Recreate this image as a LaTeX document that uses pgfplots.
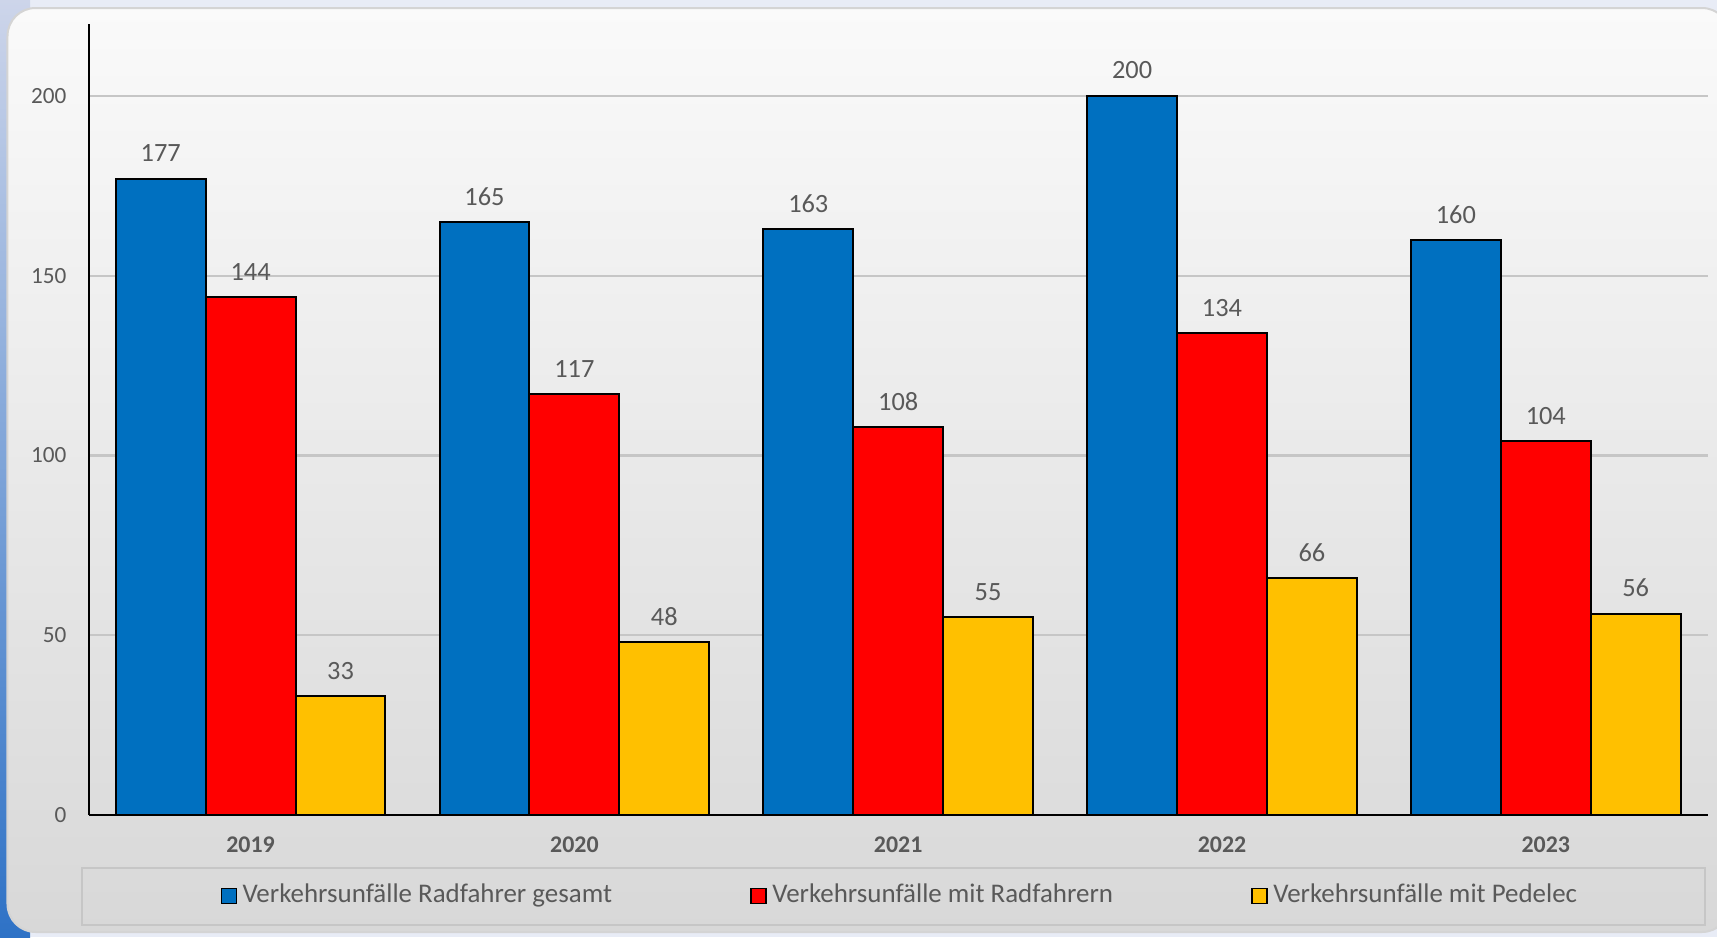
\documentclass[border=0pt]{standalone}
\usepackage{pgfplots}
\pgfplotsset{compat=1.18}
\usepackage{fontspec}
\setmainfont{Carlito}
\definecolor{cblue}{HTML}{0070C0}
\definecolor{cred}{HTML}{FF0000}
\definecolor{cyellow}{HTML}{FFC000}
\definecolor{textc}{HTML}{595959}
\definecolor{gridc}{HTML}{C6C6C6}
\definecolor{cardtop}{HTML}{FAFAFA}
\definecolor{cardbot}{HTML}{D8D8D8}
\definecolor{cardborder}{HTML}{D4D4D4}
\definecolor{outertop}{HTML}{E8ECF6}
\definecolor{stripbot}{HTML}{2E72C6}
\definecolor{striptop}{HTML}{CDD5EA}
\begin{document}
\begin{tikzpicture}
\useasboundingbox (0,0) rectangle (17.17,9.37);
\clip (0,0) rectangle (17.17,9.37);
\fill[outertop] (0,0) rectangle (17.17,9.37);
\shade[top color=striptop, bottom color=stripbot] (0,0) rectangle (0.3,9.37);
\shade[top color=cardtop, bottom color=cardbot, draw=cardborder, line width=0.02cm, rounded corners=0.28cm] (0.075,0.05) rectangle (17.30,9.29);
\draw[gridc, line width=0.025cm, fill=none] (0.82,0.12) rectangle (17.05,0.69);
\begin{axis}[
  at={(0.887cm,1.22cm)}, anchor=south west,
  scale only axis, width=16.19cm, height=7.91cm,
  xmin=-0.5, xmax=4.5, ymin=0, ymax=220,
  ybar=0pt, bar width=0.899cm,
  xtick={0,1,2,3,4},
  xticklabels={2019,2020,2021,2022,2023},
  ytick={0,50,100,150,200},
  axis x line*=bottom, axis y line*=left,
  axis line style={black, line width=0.6pt, -},
  major tick length=0pt,
  ymajorgrids, grid style={gridc, line width=0.6pt},
  /pgf/number format/assume math mode=true,
  yticklabel style={font=\fontsize{6.6}{8}\selectfont, text=textc, anchor=east, inner sep=0pt, xshift=-0.217cm},
  xticklabel style={font=\bfseries\fontsize{6.8}{8}\selectfont, text=textc, anchor=center, yshift=-0.30cm},
  nodes near coords,
  nodes near coords style={font=\fontsize{7.5}{9}\selectfont, text=textc, anchor=center, yshift=0.255cm},
  legend columns=3,
  legend image code/.code={\draw[#1, line width=0.5pt] (0cm,-0.075cm) rectangle (0.15cm,0.075cm);},
  legend style={draw=none, fill=none, at={(0.502,-0.1024)}, anchor=center,
    font=\fontsize{7.66}{9.2}\selectfont, text=textc,
    nodes={inner sep=1.5pt},
    /tikz/every even column/.append style={column sep=1.33cm}},
]
\addplot[draw=black, line width=0.55pt, fill=cblue] coordinates {(0,177) (1,165) (2,163) (3,200) (4,160)};
\addplot[draw=black, line width=0.55pt, fill=cred] coordinates {(0,144) (1,117) (2,108) (3,134) (4,104)};
\addplot[draw=black, line width=0.55pt, fill=cyellow] coordinates {(0,33) (1,48) (2,55) (3,66) (4,56)};
\legend{Verkehrsunfälle Radfahrer gesamt, Verkehrsunfälle mit Radfahrern, Verkehrsunfälle mit Pedelec}
\end{axis}
\end{tikzpicture}
\end{document}
